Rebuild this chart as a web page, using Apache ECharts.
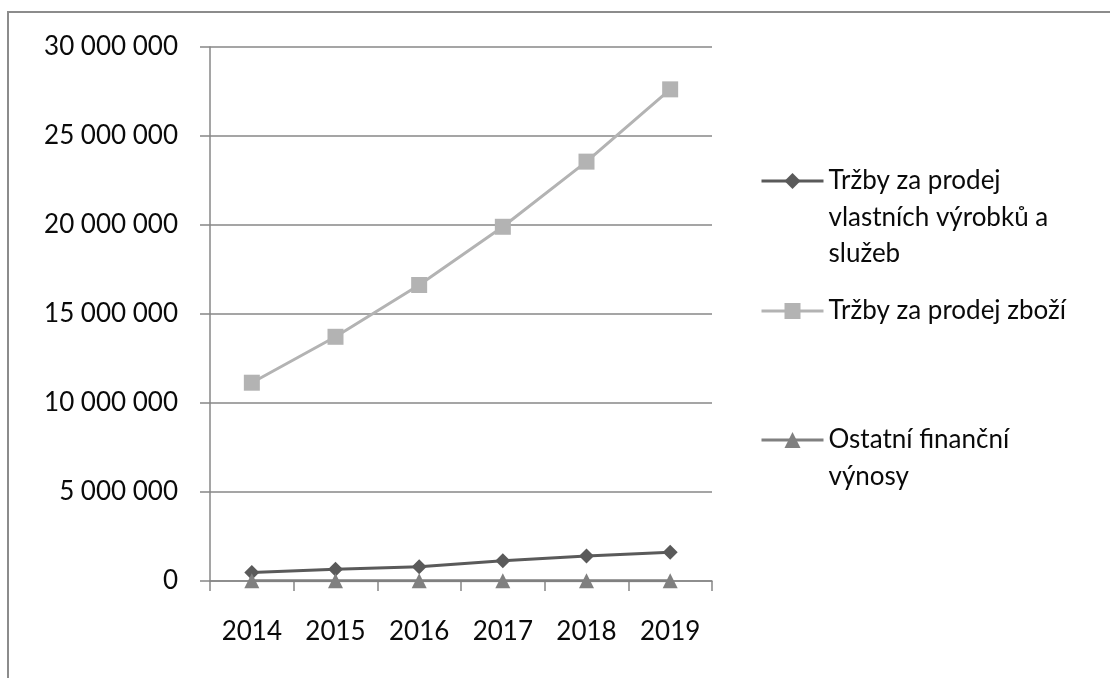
<!DOCTYPE html>
<html>
<head>
<meta charset="utf-8">
<script src="https://cdn.jsdelivr.net/npm/echarts@6/dist/echarts.min.js"></script>
<style>
html,body{margin:0;padding:0;background:#fff;}
#chart{width:1110px;height:678px;}
</style>
</head>
<body>
<div id="chart"></div>
<script>
const categories = ['2014', '2015', '2016', '2017', '2018', '2019'];
const seriesNames = ['Tržby za prodej vlastních výrobků a služeb', 'Tržby za prodej zboží', 'Ostatní finanční výnosy'];
const legendLabels = ['Tržby za prodej\nvlastních výrobků a\nslužeb', 'Tržby za prodej zboží', 'Ostatní finanční\nvýnosy'];
const vyrobkySluzby = [480000, 660000, 800000, 1140000, 1400000, 1610000];
const zbozi = [11140000, 13720000, 16630000, 19900000, 23560000, 27620000];
const ostatniVynosy = [20000, 20000, 20000, 20000, 20000, 20000];
const yTicks = { min: 0, max: 30000000, interval: 5000000 };

const FONT = 'Lato';
const FS = 26;
const LH = 36.5;
const AXIS = '#878787';
const TXT = '#0a0a0a';

function fmt(v) {
  return String(v).replace(/\B(?=(\d{3})+(?!\d))/g, ' ');
}

// keep the legend marker level with the first line of a wrapped label
const legendCenters = [181, 311, 440];
const legends = seriesNames.map((name, i) => {
  const lines = legendLabels[i].split('\n').length;
  const label = '\n'.repeat(lines - 1) + legendLabels[i];
  const total = 2 * lines - 1;
  return {
    data: [name],
    orient: 'vertical',
    left: 760,
    top: legendCenters[i] - total * LH / 2,
    padding: 0,
    itemWidth: 62,
    itemHeight: 20,
    itemGap: 0,
    selectedMode: false,
    lineStyle: { width: 3 },
    formatter: () => label,
    textStyle: { fontFamily: FONT, fontSize: FS, color: TXT, lineHeight: LH }
  };
});

const chart = echarts.init(document.getElementById('chart'));
chart.setOption({
  animation: false,
  backgroundColor: '#fff',
  textStyle: { fontFamily: FONT },
  graphic: [{
    type: 'rect', z: -10, silent: true,
    shape: { x: 8, y: 12, width: 1300, height: 900 },
    style: { fill: 'none', stroke: '#8c8c8c', lineWidth: 2 }
  }],
  legend: legends,
  grid: { left: 210, right: 398, top: 47, bottom: 97, containLabel: false },
  xAxis: {
    type: 'category',
    data: categories,
    boundaryGap: true,
    axisLine: { lineStyle: { color: AXIS, width: 1.5 } },
    axisTick: { show: true, inside: false, length: 10, alignWithLabel: false, lineStyle: { color: AXIS, width: 1.5 } },
    axisLabel: { fontFamily: FONT, fontSize: FS, color: TXT, margin: 38 }
  },
  yAxis: {
    type: 'value',
    min: yTicks.min, max: yTicks.max, interval: yTicks.interval,
    axisLine: { show: true, lineStyle: { color: AXIS, width: 1.5 } },
    axisTick: { show: true, inside: false, length: 10, lineStyle: { color: AXIS, width: 1.5 } },
    splitLine: { show: true, lineStyle: { color: AXIS, width: 1.5 } },
    axisLabel: { fontFamily: FONT, fontSize: FS, color: TXT, margin: 32, formatter: fmt }
  },
  series: [
    {
      name: seriesNames[0], type: 'line', data: vyrobkySluzby,
      symbol: 'diamond', symbolSize: 15, z: 4,
      lineStyle: { color: '#5a5a5a', width: 3 },
      itemStyle: { color: '#5a5a5a' }
    },
    {
      name: seriesNames[1], type: 'line', data: zbozi,
      symbol: 'rect', symbolSize: 16, z: 3,
      lineStyle: { color: '#b3b3b3', width: 3 },
      itemStyle: { color: '#b3b3b3' }
    },
    {
      name: seriesNames[2], type: 'line', data: ostatniVynosy,
      symbol: 'triangle', symbolSize: 15, z: 5,
      lineStyle: { color: '#808080', width: 3 },
      itemStyle: { color: '#808080' }
    }
  ]
});
</script>
</body>
</html>
